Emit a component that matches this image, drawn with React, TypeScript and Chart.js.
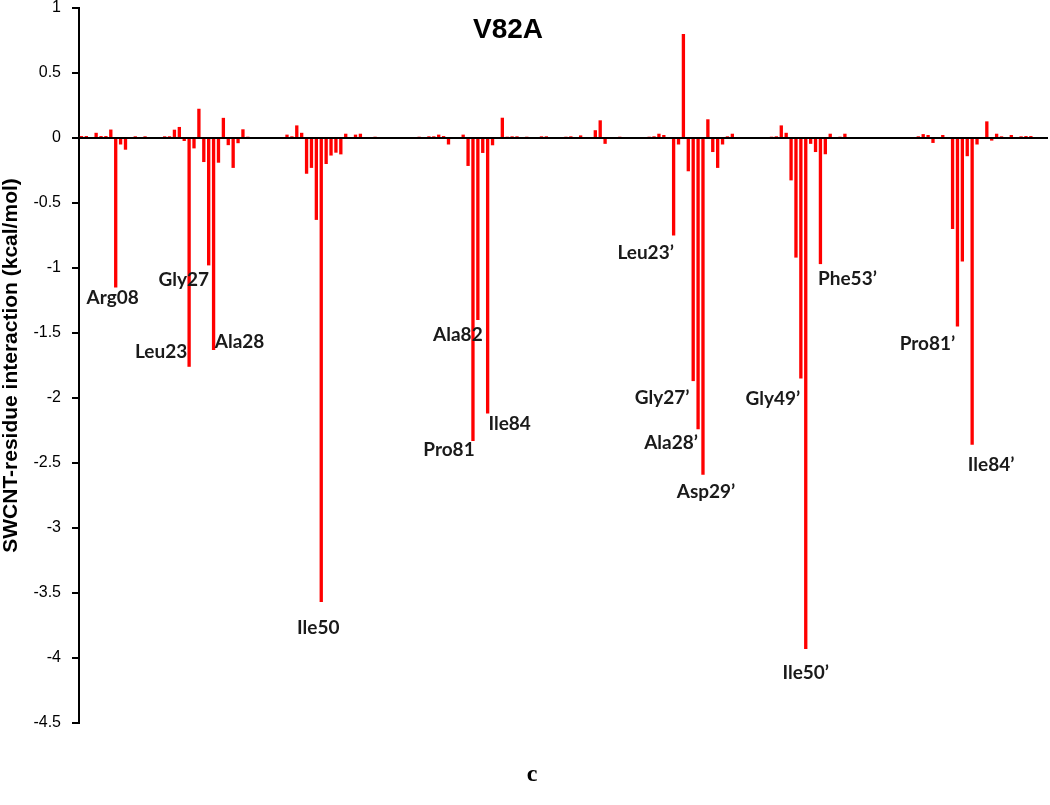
import React, { useEffect, useRef } from "react";
import { Chart, registerables } from "chart.js";

Chart.register(...registerables);

// ---------- data ----------
const residueNumbers = Array.from({ length: 99 }, (_, i) => i + 1);
const categories = [
  ...residueNumbers.map((n) => `${n}`),
  ...residueNumbers.map((n) => `${n}’`),
];

const chainA = [
  0.015, 0.015, 0, 0.04, 0.015, 0.015, 0.065, -1.15, -0.05, -0.09,
  0, 0.013, 0, 0.013, 0, 0, 0, 0.013, 0.013, 0.064,
  0.085, -0.023, -1.76, -0.08, 0.225, -0.185, -0.98, -1.63, -0.19, 0.155,
  -0.055, -0.23, -0.04, 0.067, 0.01, 0, 0, 0, 0, 0,
  0, 0, 0.026, 0.013, 0.097, 0.04, -0.275, -0.23, -0.63, -3.57,
  -0.2, -0.135, -0.113, -0.126, 0.033, 0, 0.026, 0.033, 0, 0,
  0.01, 0, 0, 0, 0, 0, 0, 0, 0, 0.01,
  0, 0.013, 0.013, 0.026, 0.015, -0.05, 0, 0, 0.026, -0.215,
  -2.33, -1.4, -0.115, -2.12, -0.056, 0, 0.156, 0.01, 0.013, 0.013,
  0, 0.01, 0, 0, 0.013, 0.013, 0, 0, 0,
];

const chainB = [
  0.01, 0.013, 0, 0.02, 0, 0, 0.06, 0.136, -0.045, 0,
  0, 0.01, 0, 0, 0, 0, 0, 0.01, 0.013, 0.033,
  0.023, 0, -0.75, -0.05, 0.8, -0.256, -1.87, -2.24, -2.59, 0.144,
  -0.108, -0.23, -0.05, 0.013, 0.033, 0, 0, 0, 0, 0,
  0, 0, 0.01, 0.013, 0.097, 0.04, -0.326, -0.92, -1.85, -3.93,
  -0.045, -0.108, -0.97, -0.125, 0.033, 0, 0.01, 0.033, 0, 0,
  0, 0, 0, 0, 0, 0, 0, 0, 0, 0,
  0, 0, 0.013, 0.03, 0.023, -0.038, 0, 0.023, 0, -0.7,
  -1.45, -0.95, -0.14, -2.36, -0.05, 0, 0.128, -0.02, 0.033, 0.013,
  0, 0.023, 0, 0.013, 0.015, 0.015, 0, 0, 0,
];

const energies = [...chainA, ...chainB];

const yMin = -4.5;
const yMax = 1;
const yStep = 0.5;

const titleText = "V82A";
const yAxisTitle = "SWCNT-residue interaction (kcal/mol)";
const panelLetter = "c";

// residue annotations: name + bar index
const annotNames = [
  "Arg08", "Leu23", "Gly27", "Ala28", "Ile50", "Ala82", "Pro81", "Ile84",
  "Leu23’", "Gly27’", "Ala28’", "Asp29’", "Gly49’", "Ile50’", "Phe53’", "Pro81’", "Ile84’",
];
const annotIndex = [7, 22, 26, 27, 49, 81, 80, 83, 121, 125, 126, 127, 147, 148, 151, 179, 182];

// label offsets (px) from bar tip
const annotDx = [-3, -28, -25, 26, -3, -20, -24, 22, -28, -31, -27, 3, -28, 0, 27, -30, 19];
const annotDy = [10, -15, 14, -8, 26, 15, 9, 10, 17, 17, 14, 17, 20, 24, 15, 17, 20];

const overlayPlugin = {
  id: "overlay",
  afterDatasetsDraw(chart: any) {
    const { ctx, chartArea, scales } = chart;
    const xs = scales.x;
    const ys = scales.y;
    ctx.save();
    // zero line
    const y0 = ys.getPixelForValue(0);
    ctx.strokeStyle = "#000";
    ctx.lineWidth = 2;
    ctx.beginPath();
    ctx.moveTo(chartArea.left, y0);
    ctx.lineTo(chartArea.right, y0);
    ctx.stroke();

    // annotations
    ctx.fillStyle = "#1a1a1a";
    ctx.font = "bold 19px Lato, 'Open Sans', sans-serif";
    ctx.textAlign = "center";
    ctx.textBaseline = "middle";
    annotNames.forEach((name, i) => {
      const idx = annotIndex[i];
      const x = xs.getPixelForValue(idx);
      const y = ys.getPixelForValue(energies[idx]);
      ctx.fillText(name, x + annotDx[i], y + annotDy[i]);
    });

    // title
    ctx.fillStyle = "#000";
    ctx.font = "bold 28px 'Liberation Sans', Arial, sans-serif";
    ctx.textAlign = "center";
    ctx.textBaseline = "alphabetic";
    ctx.fillText(titleText, 508, 38);

    // y axis title
    ctx.save();
    ctx.translate(17, (chartArea.top + chartArea.bottom) / 2);
    ctx.rotate(-Math.PI / 2);
    ctx.font = "bold 21px 'Liberation Sans', Arial, sans-serif";
    ctx.textAlign = "center";
    ctx.textBaseline = "alphabetic";
    ctx.fillText(yAxisTitle, 0, 0);
    ctx.restore();

    // panel letter
    ctx.font = "bold 24px 'Liberation Serif', 'Times New Roman', serif";
    ctx.textAlign = "center";
    ctx.textBaseline = "alphabetic";
    ctx.fillText(panelLetter, 532, 781);
    ctx.restore();
  },
};

export default function App() {
  const ref = useRef<HTMLCanvasElement | null>(null);

  useEffect(() => {
    if (!ref.current) return;
    const chart = new Chart(ref.current, {
      type: "bar",
      data: {
        labels: categories,
        datasets: [
          {
            data: energies,
            backgroundColor: "#ff0000",
            borderWidth: 0,
            barPercentage: 0.68,
            categoryPercentage: 1,
          },
        ],
      },
      options: {
        animation: false,
        responsive: false,
        maintainAspectRatio: false,
        events: [],
        layout: { padding: { top: 8, bottom: 82, left: 0, right: 2 } },
        plugins: {
          legend: { display: false },
          tooltip: { enabled: false },
          title: { display: false },
        },
        scales: {
          x: { display: false },
          y: {
            min: yMin,
            max: yMax,
            ticks: {
              stepSize: yStep,
              color: "#000",
              padding: 11,
              font: { family: "'Liberation Sans', Arial, sans-serif", size: 16 },
              callback: (v: any) => String(Math.round(Number(v) * 10) / 10),
            },
            grid: {
              drawOnChartArea: false,
              drawTicks: true,
              tickLength: 7,
              color: "#000",
              lineWidth: 2,
            },
            border: { display: true, color: "#000", width: 2 },
            afterFit: (scale: any) => {
              scale.width = 79;
              scale.paddingTop = 0;
              scale.paddingBottom = 0;
            },
          },
        },
      },
      plugins: [overlayPlugin],
    });
    return () => chart.destroy();
  }, []);

  return (
    <div style={{ position: "absolute", left: 0, top: 0, width: 1050, height: 805, background: "#fff" }}>
      <canvas ref={ref} width={1050} height={805} style={{ display: "block" }} />
    </div>
  );
}
